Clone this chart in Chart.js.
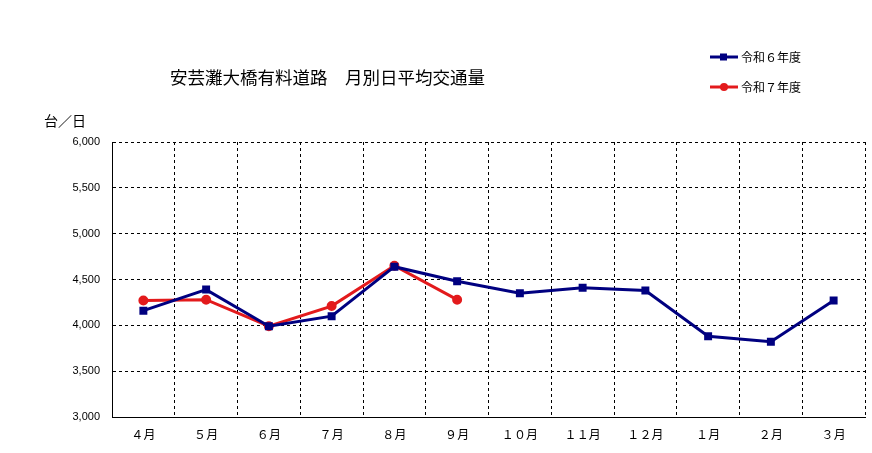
<!DOCTYPE html>
<html><head><meta charset="utf-8">
<script src="https://cdn.jsdelivr.net/npm/chart.js@4"></script>
<style>
body{margin:0;background:#fff;font-family:"Noto Sans CJK JP",sans-serif;}
#wrap{position:relative;width:872px;height:453px;}
.t{position:absolute;color:#000;white-space:nowrap;}
.leg{position:absolute;font-size:12px;display:flex;align-items:center;}
.leg svg{margin-right:3px;}
</style></head><body>
<div id="wrap">
<canvas id="c" width="872" height="453"></canvas>
<div class="t" style="left:170px;top:64px;font-size:17.5px;">安芸灘大橋有料道路　月別日平均交通量</div>
<div class="t" style="left:44px;top:110px;font-size:14px;">台／日</div>
<div class="leg" style="left:710px;top:48px;"><svg width="28" height="10"><line x1="0" y1="5" x2="28" y2="5" stroke="#000080" stroke-width="3"/><rect x="10" y="1.5" width="7" height="7" fill="#000080"/></svg>令和６年度</div>
<div class="leg" style="left:710px;top:78px;"><svg width="28" height="10"><line x1="0" y1="5" x2="28" y2="5" stroke="#e31a1c" stroke-width="3"/><circle cx="14" cy="5" r="4" fill="#e31a1c"/></svg>令和７年度</div>
</div>
<script>
const months=["４月","５月","６月","７月","８月","９月","１０月","１１月","１２月","１月","２月","３月"];
const r6=[4160,4390,3990,4100,4640,4480,4350,4410,4380,3880,3820,4270];
const r7=[4270,4280,3990,4210,4650,4280];
new Chart(document.getElementById('c'),{
type:'line',
data:{labels:months,datasets:[
{label:'令和６年度',data:r6,borderColor:'#000080',backgroundColor:'#000080',borderWidth:3,pointStyle:'rect',pointRadius:3.5,tension:0},
{label:'令和７年度',data:r7,borderColor:'#e31a1c',backgroundColor:'#e31a1c',borderWidth:3,pointStyle:'circle',pointRadius:3.5,tension:0}
]},
options:{responsive:false,animation:false,
layout:{padding:{left:0,right:2,top:142,bottom:0}},
plugins:{legend:{display:false},tooltip:{enabled:false}},
scales:{
x:{offset:true,grid:{offset:true,color:'#000',drawTicks:false},border:{color:'#000',width:1,dash:[3,3]},
ticks:{color:'#000',font:{size:12,family:'Noto Sans CJK JP'},maxRotation:0,padding:10},
afterFit:s=>{s.height=36;}},
y:{min:3000,max:6000,grid:{color:'#000',drawTicks:false},border:{color:'#000',width:1,dash:[3,3]},
ticks:{stepSize:500,color:'#000',font:{size:11,family:'Arial'},padding:12,callback:v=>v.toLocaleString('en-US')},
afterFit:s=>{s.width=112;}}
}}});
</script>
</body></html>
